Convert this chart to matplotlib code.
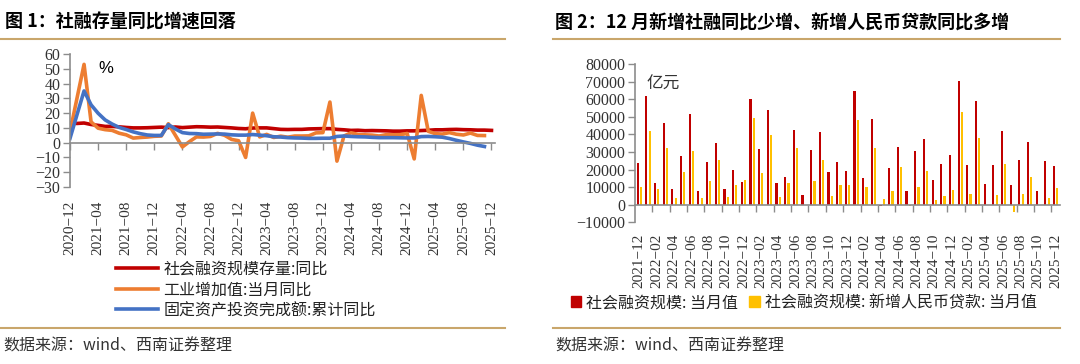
import numpy as np
import matplotlib
matplotlib.use("Agg")
import matplotlib.pyplot as plt
from matplotlib.lines import Line2D
from matplotlib.patches import Patch

plt.rcParams["font.family"] = ["Noto Sans CJK SC", "DejaVu Sans"]
plt.rcParams["axes.unicode_minus"] = True

nan = np.nan

# ---- fig 1: monthly, 2020-12 .. 2025-12 (%)
months_1 = ["2020-12"] + [f"{y}-{m:02d}" for y in range(2021, 2026) for m in range(1, 13)]

sf_stock_yoy = [13.3, 13.0, 13.3, 12.3, 11.7, 11.0, 11.0, 10.7, 10.3, 10.0, 10.0, 10.1, 10.3,
                10.5, 10.2, 10.6, 10.2, 10.5, 10.8, 10.7, 10.5, 10.6, 10.3, 10.0, 9.6,
                9.4, 9.9, 10.0, 10.0, 9.5, 9.0, 8.9, 9.0, 9.0, 9.3, 9.4, 9.5,
                9.5, 9.0, 8.7, 8.3, 8.4, 8.1, 8.2, 8.1, 8.0, 7.8, 7.8, 8.0,
                8.0, 8.2, 8.4, 8.7, 8.7, 8.9, 9.0, 8.8, 8.7, 8.5, 8.5, 8.3]

iva_yoy = [7.3, nan, 53.0, 14.1, 9.8, 8.8, 8.3, 6.4, 5.3, 3.1, 3.5, 3.8, 4.3,
           4.5, 12.8, 5.0, -2.9, 0.7, 3.9, 3.8, 4.2, 6.3, 5.0, 2.2, 1.3,
           -10.0, 20.0, 3.9, 5.6, 3.5, 4.4, 3.7, 4.5, 4.5, 4.6, 6.6, 6.8,
           27.5, -12.5, 4.5, 6.7, 5.6, 5.3, 5.1, 4.5, 5.4, 5.3, 5.4, 6.2,
           -11.0, 32.0, 7.7, 6.1, 5.8, 6.8, 5.7, 5.2, 6.5, 4.9, 4.8, nan]

fai_ytd = [2.9, nan, 35.0, 25.6, 19.9, 15.4, 12.6, 10.3, 8.9, 7.3, 6.1, 5.2, 4.9,
           4.9, 12.2, 9.3, 6.8, 6.2, 6.1, 5.7, 5.8, 5.9, 5.8, 5.3, 5.1,
           5.1, 5.5, 5.1, 4.7, 4.0, 3.8, 3.4, 3.2, 3.1, 2.9, 2.9, 3.0,
           3.0, 4.2, 4.5, 4.2, 4.0, 3.9, 3.6, 3.4, 3.4, 3.4, 3.3, 3.2,
           3.2, 4.1, 4.2, 4.0, 3.7, 2.8, 1.6, 0.5, -0.5, -1.7, -2.6, nan]

labels_1 = ["社会融资规模存量:同比", "工业增加值:当月同比", "固定资产投资完成额:累计同比"]
colors_1 = ["#C00000", "#ED7D31", "#4472C4"]

# ---- fig 2: monthly, 2021-12 .. 2025-12 (亿元)
months_2 = ["2021-12"] + [f"{y}-{m:02d}" for y in range(2022, 2026) for m in range(1, 13)]

tsf_flow = [23682, 61726, 12166, 46531, 9102, 27921, 51727, 7561, 24274, 35274, 9079, 19837, 13058,
            59835, 31600, 53862, 12249, 15556, 42265, 5282, 31213, 41271, 18441, 24460, 19326,
            64734, 15200, 48700, -1000, 20600, 33000, 7800, 30300, 37500, 13900, 23100, 28200,
            70600, 22300, 59000, 11800, 22700, 42000, 11400, 25500, 35400, 8000, 25000, 22100]

rmb_loans = [10350, 41988, 9084, 32291, 3616, 18413, 30540, 4088, 13344, 25686, 4431, 11200, 14300,
             49314, 18184, 39462, 4431, 12219, 32413, -345, 13412, 25369, 4837, 11445, 11300,
             48400, 9800, 32400, 3300, 7800, 21400, -768, 10000, 19300, 2700, 4900, 8200,
             52500, 6100, 38100, 100, 5500, 23300, -4000, 6100, 15900, -200, 3800, 9600]

labels_2 = ["社会融资规模: 当月值", "社会融资规模: 新增人民币贷款: 当月值"]

axis_grey = "#8C8C8C"
tick_font = ["Liberation Serif", "DejaVu Serif"]
gold = "#C9A66B"

fig = plt.figure(figsize=(10.8, 3.64), dpi=100)

# ================= left chart =================
ax1 = fig.add_axes([70 / 1080, 1 - 187 / 364, 425 / 1080, 133 / 364])
x1 = np.arange(len(months_1))
for vals, c, lab in zip([sf_stock_yoy, iva_yoy, fai_ytd], colors_1, labels_1):
    v = np.array(vals, dtype=float)
    ok = ~np.isnan(v)
    ax1.plot(x1[ok], v[ok], color=c, lw=2.6, label=lab)

ax1.set_xlim(0, 60.5)
ax1.set_ylim(-30, 60)
yt1 = list(range(-30, 61, 10))
ax1.set_yticks(yt1, labels=[str(v).replace("-", "\u2212") for v in yt1],
               family=tick_font, fontsize=11.5, color="#333333")
ax1.set_xticks(x1[::4])
ax1.tick_params(axis="x", labelbottom=False, length=5, color=axis_grey, width=1)
ax1.tick_params(axis="y", length=5, color=axis_grey, width=1, pad=2)
for s in ["top", "right"]:
    ax1.spines[s].set_visible(False)
ax1.spines["bottom"].set_position(("data", 0))
for s in ["bottom", "left"]:
    ax1.spines[s].set_color(axis_grey)
    ax1.spines[s].set_linewidth(1.2)

sec1 = ax1.secondary_xaxis("bottom")
sec1.set_xticks(x1[::4], labels=[m.replace("-", "\u2212") for m in months_1[::4]])
sec1.tick_params(length=0, pad=10)
for t in sec1.get_xticklabels():
    t.set_rotation(90)
    t.set_family(tick_font)
    t.set_fontsize(11)
    t.set_color("#333333")
sec1.spines["bottom"].set_visible(False)

ax1.text(4.0, 50.5, "%", fontsize=12, va="center", family=["Liberation Sans", "DejaVu Sans"])

h1, l1 = ax1.get_legend_handles_labels()
fig.legend(h1, l1, loc="center left", bbox_to_anchor=(116 / 1080, 1 - 290 / 364),
           frameon=False, fontsize=11.5, handlelength=2.6, handletextpad=0.35,
           labelspacing=0.22, borderpad=0, borderaxespad=0, labelcolor="#222222")

# ================= right chart =================
ax2 = fig.add_axes([635 / 1080, 1 - 222.3 / 364, 425 / 1080, 158.3 / 364])
x2 = np.arange(len(months_2))
ax2.bar(x2 - 0.19, tsf_flow, width=0.25, color="#C00000", label=labels_2[0])
ax2.bar(x2 + 0.19, rmb_loans, width=0.25, color="#FFC000", label=labels_2[1])
ax2.set_xlim(-0.5, 48.5)
ax2.set_ylim(-10000, 80000)
yt2 = list(range(-10000, 80001, 10000))
ax2.set_yticks(yt2, labels=[str(v).replace("-", "\u2212") for v in yt2],
               family=tick_font, fontsize=11.5, color="#333333")
ax2.set_xticks(np.arange(1.5, 48, 2))
ax2.tick_params(axis="x", labelbottom=False, length=5, color=axis_grey, width=1)
ax2.tick_params(axis="y", length=5, color=axis_grey, width=1, pad=2)
for s in ["top", "right"]:
    ax2.spines[s].set_visible(False)
ax2.spines["bottom"].set_position(("data", 0))
for s in ["bottom", "left"]:
    ax2.spines[s].set_color(axis_grey)
    ax2.spines[s].set_linewidth(1.2)

sec2 = ax2.secondary_xaxis("bottom")
sec2.set_xticks(x2[::2], labels=[m.replace("-", "\u2212") for m in months_2[::2]])
sec2.tick_params(length=0, pad=8)
for t in sec2.get_xticklabels():
    t.set_rotation(90)
    t.set_family(tick_font)
    t.set_fontsize(11)
    t.set_color("#333333")
sec2.spines["bottom"].set_visible(False)

ax2.text(0.8, 68600, "亿元", fontsize=12, va="center", color="#333333")

h2 = [Patch(color="#C00000"), Patch(color="#FFC000")]
fig.legend(h2, labels_2, loc="center left", bbox_to_anchor=(571 / 1080, 1 - 302.7 / 364),
           ncol=2, frameon=False, fontsize=11.5, handlelength=0.65, handleheight=0.65,
           handletextpad=0.3, columnspacing=0.7, borderpad=0, borderaxespad=0,
           labelcolor="#222222")

# ================= titles, rules, sources =================
fig.text(5 / 1080, 1 - 22.5 / 364, "图 1：社融存量同比增速回落", fontsize=13,
         fontweight="bold", va="center")
fig.text(555 / 1080, 1 - 23 / 364, "图 2：12 月新增社融同比少增、新增人民币贷款同比多增",
         fontsize=13, fontweight="bold", va="center")

for x0, x1_ in [(0, 505), (553, 1060)]:
    for yy in [39, 328]:
        fig.add_artist(Line2D([x0 / 1080, x1_ / 1080], [1 - yy / 364, 1 - yy / 364],
                              transform=fig.transFigure, color=gold, lw=1.5))

for xs in [3, 555]:
    fig.text(xs / 1080, 1 - 346.5 / 364, "数据来源：wind、西南证券整理", fontsize=11.5,
             style="italic", va="center", color="#333333")

fig.savefig("out.png", dpi=100)
